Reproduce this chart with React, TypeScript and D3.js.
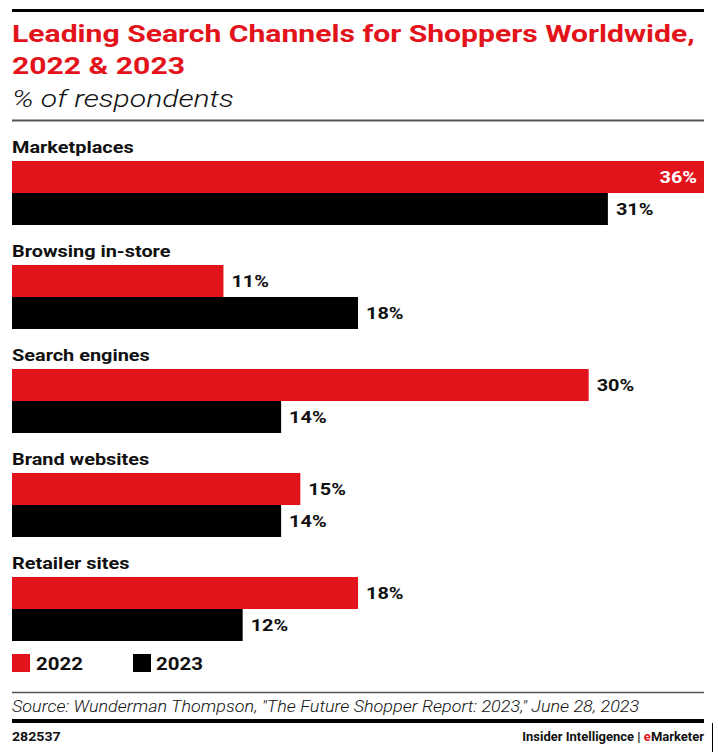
import React from "react";
import * as d3 from "d3";

const categories = ["Marketplaces", "Browsing in-store", "Search engines", "Brand websites", "Retailer sites"];
const values2022 = [36, 11, 30, 15, 18];
const values2023 = [31, 18, 14, 14, 12];
const seriesNames = ["2022", "2023"];

const RED = "#e3131b";
const FONT = "Roboto, 'Liberation Sans', Arial, sans-serif";

type STextProps = {
  x: number;
  y: number;
  sx: number;
  anchor?: "start" | "end" | "middle";
  dy?: string;
  children: React.ReactNode;
  [k: string]: any;
};

function SText({ x, y, sx, anchor = "start", dy, children, ...rest }: STextProps) {
  return (
    <text transform={`translate(${x},${y}) scale(${sx},1)`} textAnchor={anchor} dy={dy} {...rest}>
      {children}
    </text>
  );
}

export default function App() {
  const W = 718, H = 752;
  const x = d3.scaleLinear().domain([0, 36]).range([12, 704]);
  const g = d3.scaleBand<string>().domain(categories).range([136, 656]).paddingInner(0).paddingOuter(0);
  const barH = 32;
  const fmt = (v: number) => `${v}%`;
  const LS = 1.17;
  return (
    <svg width={W} height={H} style={{ position: "absolute", left: 0, top: 0, background: "#fff" }} fontFamily={FONT}>
      <rect x={0} y={0} width={W} height={H} fill="#fff" />
      <line x1={12} x2={704} y1={10.5} y2={10.5} stroke="#000" strokeWidth={3} />
      <SText x={12} y={42} sx={1.255} fill={RED} fontSize={24} fontWeight={700}>Leading Search Channels for Shoppers Worldwide,</SText>
      <SText x={12} y={74} sx={1.255} fill={RED} fontSize={24} fontWeight={700}>2022 &amp; 2023</SText>
      <SText x={12} y={107} sx={1.255} fill="#111" fontSize={24} fontStyle="italic" fontWeight={300}>% of respondents</SText>
      <line x1={12} x2={704} y1={120.5} y2={120.5} stroke="#555" strokeWidth={2} />
      {categories.map((c, i) => {
        const y0 = g(c)!;
        const v1 = values2022[i];
        const v2 = values2023[i];
        const inside1 = v1 === 36;
        return (
          <g key={c}>
            <SText x={12} y={y0 + 17} sx={LS} fontSize={17} fontWeight={700} fill="#111">{c}</SText>
            <rect x={x(0)} y={y0 + 25} width={x(v1) - x(0)} height={barH} fill={RED} />
            <rect x={x(0)} y={y0 + 25 + barH} width={x(v2) - x(0)} height={barH} fill="#000" />
            <SText
              x={inside1 ? x(v1) - 7 : x(v1) + 8}
              y={y0 + 25 + barH / 2}
              sx={LS}
              dy="0.35em"
              anchor={inside1 ? "end" : "start"}
              fontSize={17}
              fontWeight={700}
              fill={inside1 ? "#fff" : "#111"}
            >{fmt(v1)}</SText>
            <SText x={x(v2) + 8} y={y0 + 25 + barH * 1.5} sx={LS} dy="0.35em" fontSize={17} fontWeight={700} fill="#111">{fmt(v2)}</SText>
          </g>
        );
      })}
      <rect x={12} y={654} width={18} height={18} fill={RED} />
      <SText x={36} y={670} sx={LS} fontSize={17.5} fontWeight={700} fill="#111">{seriesNames[0]}</SText>
      <rect x={133} y={654} width={18} height={18} fill="#000" />
      <SText x={156} y={670} sx={LS} fontSize={17.5} fontWeight={700} fill="#111">{seriesNames[1]}</SText>
      <line x1={12} x2={704} y1={692.5} y2={692.5} stroke="#555" strokeWidth={1.5} />
      <SText x={12} y={712} sx={1.09} fontSize={16.5} fontStyle="italic" fontWeight={300} fill="#111">Source: Wunderman Thompson, "The Future Shopper Report: 2023," June 28, 2023</SText>
      <line x1={12} x2={704} y1={721} y2={721} stroke="#000" strokeWidth={4} />
      <SText x={12} y={741} sx={1.09} fontSize={13} fontWeight={700} fill="#111">282537</SText>
      <text x={704} y={741} textAnchor="end" fontSize={13} fontWeight={700} fill="#111">
        Insider Intelligence | <tspan fill={RED}>e</tspan>Marketer
      </text>
      <line x1={712.5} x2={712.5} y1={723} y2={752} stroke="#000" strokeWidth={1} />
    </svg>
  );
}
